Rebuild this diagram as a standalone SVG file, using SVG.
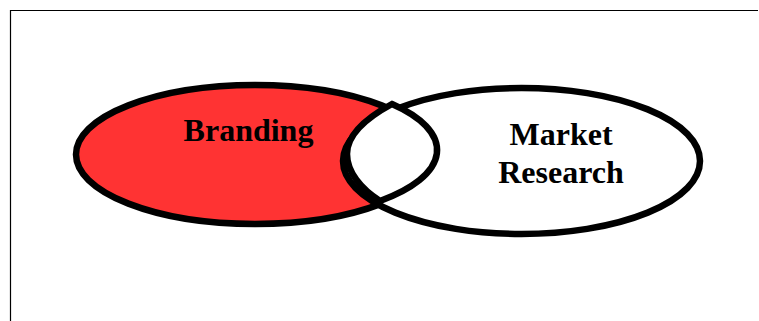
<svg xmlns="http://www.w3.org/2000/svg" width="759" height="321" viewBox="0 0 759 321">
<style>
.lbl{font-family:"Liberation Serif","Times New Roman",serif;font-weight:bold;font-size:32px;fill:#000;text-anchor:middle}
.shape{stroke:#000;stroke-width:6.5;stroke-linejoin:miter;stroke-miterlimit:10}
</style>
<rect width="759" height="321" fill="#fff"/>
<g id="frame" fill="none" stroke="#000" stroke-width="1.2">
<path d="M10.5,321 V10.5 H758"/>
</g>
<g id="branding">
<ellipse class="shape" cx="255" cy="154.5" rx="179" ry="69.5" fill="#ff3333"/>
<text class="lbl" x="248.5" y="141">Branding</text>
</g>
<g id="market-research">
<ellipse class="shape" cx="521.5" cy="161" rx="178.5" ry="73" fill="#fff"/>
<text class="lbl" x="561" y="145">Market</text>
<text class="lbl" x="561" y="183">Research</text>
</g>
<g id="overlap">
<path class="shape" fill="#fff" d="M392,104 C368,117 347,134 347,154 C347,172 361,189 380,201 A179 69.5 0 0 0 392,104 Z"/>
</g>
</svg>
